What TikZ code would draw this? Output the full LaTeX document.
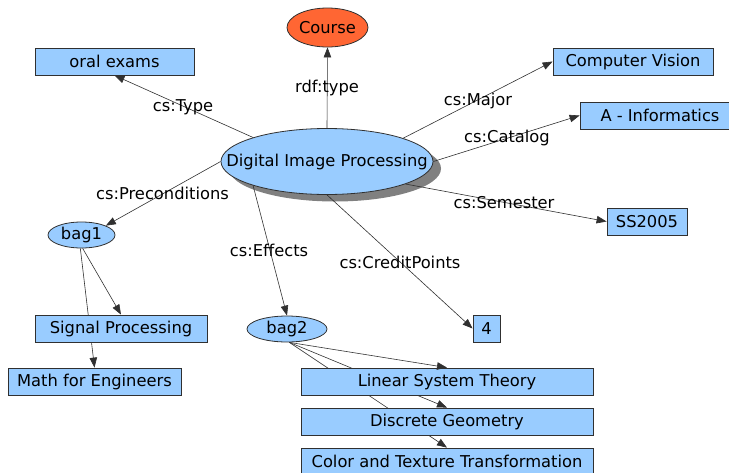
\documentclass[tikz,border=0pt]{standalone}
\usepackage{fontspec}
\setmainfont{DejaVu Sans}
\usetikzlibrary{arrows.meta,shapes.geometric,backgrounds}
\definecolor{nodeblue}{HTML}{99CCFF}
\definecolor{courseorange}{HTML}{FF6633}
\definecolor{edgegray}{HTML}{303030}
\definecolor{shadowgray}{HTML}{808080}
\tikzset{
  lbl/.style={font=\fontsize{16.3}{18}\selectfont, inner sep=0pt},
  boxnode/.style={draw=edgegray, line width=0.8pt, fill=nodeblue, rectangle, inner sep=0pt,
    minimum height=27pt, font=\fontsize{16.3}{18}\selectfont},
  ellnode/.style={draw=edgegray, line width=0.8pt, fill=nodeblue, ellipse, inner sep=0pt,
    font=\fontsize{16.3}{18}\selectfont},
  edge/.style={draw=edgegray, line width=0.6pt, -{Triangle[length=10pt,width=7.5pt]}},
}
\newcommand{\zw}[1]{\makebox[0pt]{#1}}
\begin{document}
\begin{tikzpicture}[x=1pt,y=-1pt]
\clip (0,0) rectangle (729,472);
\useasboundingbox (0,0) rectangle (729,472);
% shadow of main ellipse
\fill[shadowgray] (335,168.5) ellipse [x radius=106, y radius=33];
% nodes
\node[ellnode, minimum width=212pt, minimum height=66pt] (dip) at (327,161.5) {\zw{Digital Image Processing}};
\node[ellnode, fill=courseorange, minimum width=81pt, minimum height=39pt] (course) at (327.5,27.5) {\zw{Course}};
\node[boxnode, minimum width=159pt] (oral) at (114.5,61.5) {oral exams};
\node[boxnode, minimum width=160pt] (cv) at (633,61.5) {Computer Vision};
\node[boxnode, minimum width=160pt] (info) at (660,115.5) {A - Informatics};
\node[boxnode, minimum width=80pt] (ss) at (647,221.5) {SS2005};
\node[ellnode, minimum width=67pt, minimum height=26pt] (bag1) at (81.5,235) {\zw{bag1}};
\node[ellnode, minimum width=80pt, minimum height=26pt] (bag2) at (287,329) {\zw{bag2}};
\node[boxnode, minimum width=27pt] (four) at (486.5,328.5) {4};
\node[boxnode, minimum width=172pt] (sp) at (121,328.5) {Signal Processing};
\node[boxnode, minimum width=173pt] (math) at (94.5,381.5) {Math for Engineers};
\node[boxnode, minimum width=292pt] (lst) at (447,381.5) {Linear System Theory};
\node[boxnode, minimum width=292pt] (dg) at (447,421.5) {Discrete Geometry};
\node[boxnode, minimum width=292pt] (ctt) at (447,461.5) {Color and Texture Transformation};
% edges that pass behind boxes
\begin{scope}[on background layer]
\draw[edge] (bag1.-95) -- (math.north);
\draw[edge] (bag2.-80) -- (dg.north);
\draw[edge] (bag2.-80) -- (ctt.north);
\end{scope}
% edges
\draw[edge] (dip.north) -- (course.south);
\draw[edge] (dip.162) -- (oral.south);
\draw[edge] (dip.17) -- (cv.west);
\draw[edge] (dip.east) -- (info.west);
\draw[edge] (dip.-16) -- (ss.west);
\draw[edge] (dip.west) -- (bag1.21);
\draw[edge] (dip.198) -- (bag2.north);
\draw[edge] (dip.south) -- (four.west);
\draw[edge] (bag1.-85) -- (sp.north);
\draw[edge] (bag2.-80) -- (lst.north);
% labels
\node[lbl] (l1) at (327,88) {rdf:type};
\node[lbl] (l2) at (183,107) {cs:Type};
\node[lbl] (l3) at (478,101) {cs:Major};
\node[lbl] (l4) at (507,138) {cs:Catalog};
\node[lbl] (l5) at (504,203) {cs:Semester};
\node[lbl] (l6) at (162.5,193) {cs:Preconditions};
\node[lbl] (l7) at (269,250) {cs:Effects};
\node[lbl] (l8) at (400,262) {cs:CreditPoints};
\end{tikzpicture}
\end{document}
